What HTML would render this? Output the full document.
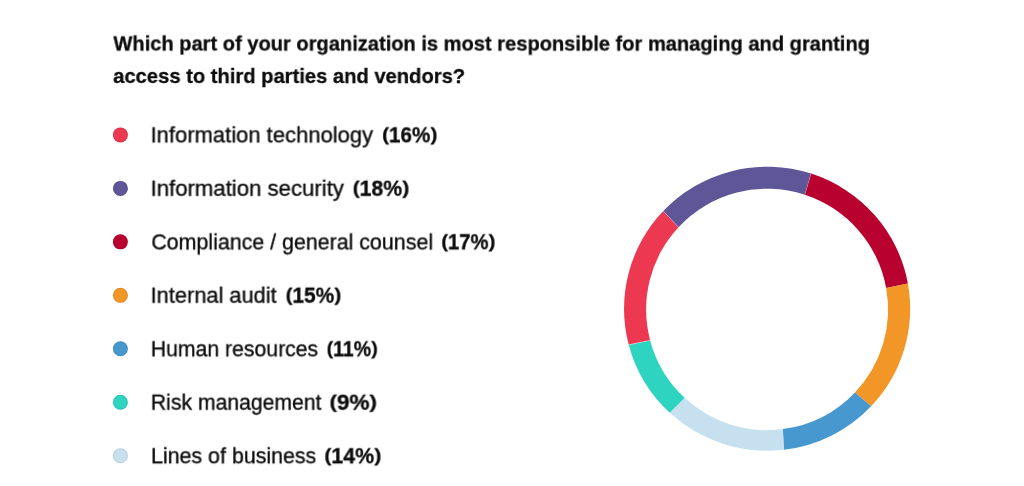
<!DOCTYPE html>
<html><head><meta charset="utf-8"><title>Chart</title><style>
html,body{margin:0;padding:0;background:#fff;}
body{width:1024px;height:486px;position:relative;overflow:hidden;font-family:"Liberation Sans",sans-serif;color:#0c0c0c;}
.t{position:absolute;left:0;top:0;will-change:transform;transform-origin:0 0;white-space:nowrap;line-height:1;margin:0;-webkit-text-stroke:0.35px #0c0c0c;}
.b{font-weight:bold;-webkit-text-stroke:0.32px #0c0c0c;}
.h{-webkit-text-stroke:0.3px #0c0c0c;}
.p{display:inline-block;transform:translateY(-0.8px) scaleY(0.87);}
svg{position:absolute;left:0;top:0;}
</style></head><body>
<div class="t b h" style="font-size:21.0px;transform:translate(113.42px,32.48px) rotate(0.01deg) scale(0.9564,1)">Which part of your organization is most responsible for managing and granting</div>
<div class="t b h" style="font-size:21.0px;transform:translate(113.21px,64.99px) rotate(0.01deg) scale(0.9605,1)">access to third parties and vendors?</div>
<div class="t" style="font-size:21.6px;transform:translate(150.57px,124.37px) rotate(0.01deg) scale(1.0183,1)">Information technology</div>
<div class="t b" style="font-size:22.0px;transform:translate(382.13px,124.36px) rotate(0.01deg) scale(0.9403,1)"><span class="p">(</span>16%<span class="p">)</span></div>
<div class="t" style="font-size:21.6px;transform:translate(150.54px,177.79px) rotate(0.01deg) scale(1.0264,1)">Information security</div>
<div class="t b" style="font-size:22.0px;transform:translate(352.66px,177.77px) rotate(0.01deg) scale(0.9642,1)"><span class="p">(</span>18%<span class="p">)</span></div>
<div class="t" style="font-size:21.6px;transform:translate(151.36px,231.42px) rotate(0.01deg) scale(0.9902,1)">Compliance / general counsel</div>
<div class="t b" style="font-size:22.0px;transform:translate(441.29px,231.32px) rotate(0.01deg) scale(0.9203,1)"><span class="p">(</span>17%<span class="p">)</span></div>
<div class="t" style="font-size:21.6px;transform:translate(150.59px,284.72px) rotate(0.01deg) scale(1.0100,1)">Internal audit</div>
<div class="t b" style="font-size:22.0px;transform:translate(285.60px,284.73px) rotate(0.01deg) scale(0.9473,1)"><span class="p">(</span>15%<span class="p">)</span></div>
<div class="t" style="font-size:21.6px;transform:translate(150.90px,338.33px) rotate(0.01deg) scale(0.9817,1)">Human resources</div>
<div class="t b" style="font-size:22.0px;transform:translate(326.65px,338.31px) rotate(0.01deg) scale(0.8885,1)"><span class="p">(</span>11%<span class="p">)</span></div>
<div class="t" style="font-size:21.6px;transform:translate(150.89px,391.70px) rotate(0.01deg) scale(0.9803,1)">Risk management</div>
<div class="t b" style="font-size:22.0px;transform:translate(329.46px,391.75px) rotate(0.01deg) scale(1.0247,1)"><span class="p">(</span>9%<span class="p">)</span></div>
<div class="t" style="font-size:21.6px;transform:translate(151.08px,445.28px) rotate(0.01deg) scale(0.9900,1)">Lines of business</div>
<div class="t b" style="font-size:22.0px;transform:translate(324.32px,445.28px) rotate(0.01deg) scale(0.9708,1)"><span class="p">(</span>14%<span class="p">)</span></div>
<svg width="1024" height="486" viewBox="0 0 1024 486">
<path d="M628.73 344.78 A143.05 142.0 0 0 1 663.25 211.09 L678.53 227.21 A121.0 120.7 0 0 0 650.14 340.38 Z" fill="#ec3850"/>
<path d="M663.25 211.09 A143.05 142.0 0 0 1 811.07 173.62 L804.79 194.76 A121.0 120.7 0 0 0 678.53 227.21 Z" fill="#5f5698"/>
<path d="M811.07 173.62 A143.05 142.0 0 0 1 907.89 283.60 L886.17 287.97 A121.0 120.7 0 0 0 804.79 194.76 Z" fill="#b9012f"/>
<path d="M907.89 283.60 A143.05 142.0 0 0 1 871.12 406.23 L854.94 392.46 A121.0 120.7 0 0 0 886.17 287.97 Z" fill="#f19627"/>
<path d="M871.12 406.23 A143.05 142.0 0 0 1 783.79 449.78 L782.89 429.12 A121.0 120.7 0 0 0 854.94 392.46 Z" fill="#4798ce"/>
<path d="M783.79 449.78 A143.05 142.0 0 0 1 669.81 412.86 L684.66 397.80 A121.0 120.7 0 0 0 782.89 429.12 Z" fill="#c6e0f0"/>
<path d="M669.81 412.86 A143.05 142.0 0 0 1 628.73 344.78 L650.14 340.38 A121.0 120.7 0 0 0 684.66 397.80 Z" fill="#2ed4c0"/>
<path d="M628.73 344.78 L650.14 340.38" stroke="#fff" stroke-opacity="0.55" stroke-width="0.7" fill="none"/>
<path d="M663.25 211.09 L678.53 227.21" stroke="#fff" stroke-opacity="0.4" stroke-width="0.7" fill="none"/>
<path d="M811.07 173.62 L804.79 194.76" stroke="#fff" stroke-opacity="0.3" stroke-width="0.7" fill="none"/>
<circle cx="120.4" cy="134.90" r="7.5" fill="#ec3850"/><circle cx="120.4" cy="134.90" r="7" fill="none" stroke="#000" stroke-opacity="0.08" stroke-width="1"/>
<circle cx="120.4" cy="188.38" r="7.5" fill="#5f5698"/><circle cx="120.4" cy="188.38" r="7" fill="none" stroke="#000" stroke-opacity="0.08" stroke-width="1"/>
<circle cx="120.4" cy="241.86" r="7.5" fill="#b9012f"/><circle cx="120.4" cy="241.86" r="7" fill="none" stroke="#000" stroke-opacity="0.08" stroke-width="1"/>
<circle cx="120.4" cy="295.34" r="7.5" fill="#f19627"/><circle cx="120.4" cy="295.34" r="7" fill="none" stroke="#000" stroke-opacity="0.08" stroke-width="1"/>
<circle cx="120.4" cy="348.82" r="7.5" fill="#4798ce"/><circle cx="120.4" cy="348.82" r="7" fill="none" stroke="#000" stroke-opacity="0.08" stroke-width="1"/>
<circle cx="120.4" cy="402.30" r="7.5" fill="#2ed4c0"/><circle cx="120.4" cy="402.30" r="7" fill="none" stroke="#000" stroke-opacity="0.08" stroke-width="1"/>
<circle cx="120.4" cy="455.78" r="7.5" fill="#c6e0f0"/><circle cx="120.4" cy="455.78" r="7" fill="none" stroke="#000" stroke-opacity="0.08" stroke-width="1"/>
</svg>
</body></html>
